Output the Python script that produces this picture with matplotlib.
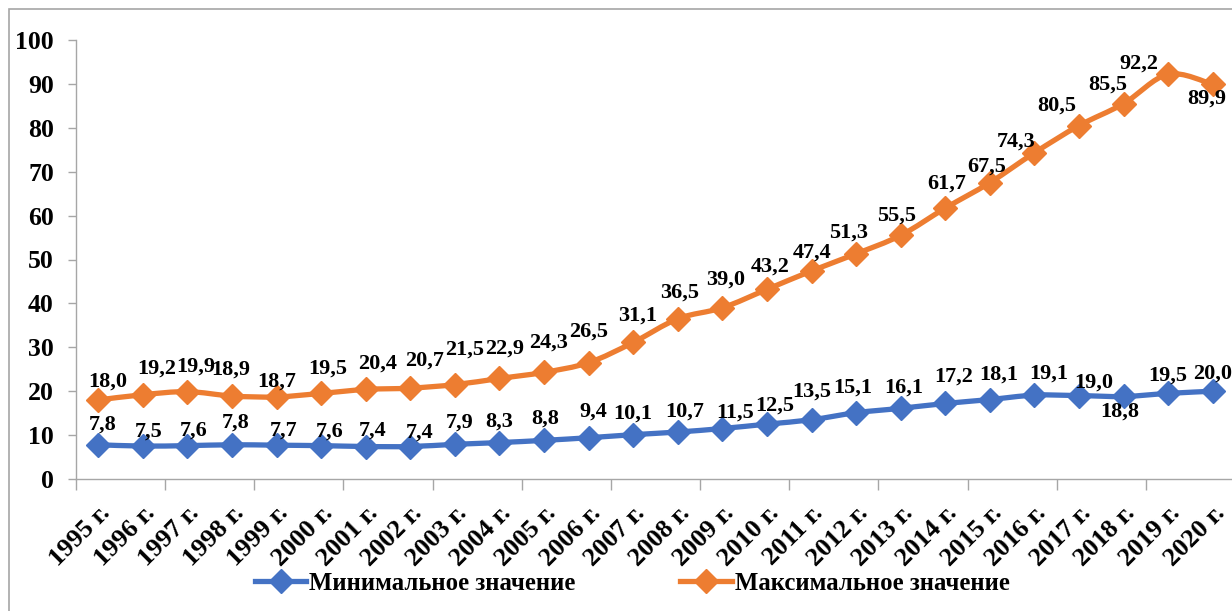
import matplotlib.pyplot as plt
from matplotlib.path import Path
from matplotlib.patches import PathPatch, Rectangle
from matplotlib.lines import Line2D

years = [f"{y} г." for y in range(1995, 2021)]

min_values = [7.8, 7.5, 7.6, 7.8, 7.7, 7.6, 7.4, 7.4, 7.9, 8.3, 8.8, 9.4, 10.1,
              10.7, 11.5, 12.5, 13.5, 15.1, 16.1, 17.2, 18.1, 19.1, 19.0, 18.8,
              19.5, 20.0]
max_values = [18.0, 19.2, 19.9, 18.9, 18.7, 19.5, 20.4, 20.7, 21.5, 22.9, 24.3,
              26.5, 31.1, 36.5, 39.0, 43.2, 47.4, 51.3, 55.5, 61.7, 67.5, 74.3,
              80.5, 85.5, 92.2, 89.9]

# label offsets in pixels (dx, dy), picked by eye from the original
min_offsets = [(4, 20), (6, 14), (6, 15), (4, 22), (7, 15), (8, 14), (7, 16),
               (9, 14), (5, 22), (0, 21), (1, 22), (5, 26), (0, 21), (7, 20),
               (13, 16), (8, 19), (0, 28), (-3, 25), (3, 21), (8, 27), (9, 25),
               (14, 22), (15, 13), (-4, -15), (0, 18), (0, 18)]
max_offsets = [(9, 18), (14, 26), (8, 25), (-1, 26), (0, 15), (7, 25), (12, 26),
               (14, 28), (10, 35), (5, 30), (5, 30), (0, 31), (4, 27), (2, 26),
               (3, 28), (3, 23), (1, 18), (-8, 21), (-4, 20), (1, 25), (-3, 16),
               (-18, 11), (-22, 20), (-16, 19), (-29, 11), (-6, -14)]

BLUE = "#4472C4"
ORANGE = "#ED7D31"
GREY = "#A6A6A6"

plt.rcParams["font.family"] = ["Liberation Serif", "DejaVu Serif"]
plt.rcParams["font.weight"] = "bold"

fig = plt.figure(figsize=(12.32, 6.11), dpi=100)
ax = fig.add_axes([76 / 1232, 132 / 611, 1159 / 1232, 439 / 611])

x = [i + 0.5 for i in range(len(years))]


def smooth_path(xs, ys):
    # Excel-like smoothed line: Catmull-Rom turned into cubic Bezier segments
    pts = list(zip(xs, ys))
    verts = [pts[0]]
    codes = [Path.MOVETO]
    n = len(pts)
    for i in range(n - 1):
        p0 = pts[max(i - 1, 0)]
        p1 = pts[i]
        p2 = pts[i + 1]
        p3 = pts[min(i + 2, n - 1)]
        c1 = (p1[0] + (p2[0] - p0[0]) / 6, p1[1] + (p2[1] - p0[1]) / 6)
        c2 = (p2[0] - (p3[0] - p1[0]) / 6, p2[1] - (p3[1] - p1[1]) / 6)
        verts += [c1, c2, p2]
        codes += [Path.CURVE4] * 3
    return Path(verts, codes)


for vals, col, offs in [(min_values, BLUE, min_offsets),
                        (max_values, ORANGE, max_offsets)]:
    ax.add_patch(PathPatch(smooth_path(x, vals), fill=False, edgecolor=col,
                           lw=3.8, capstyle="round", joinstyle="round", zorder=2))
    ax.plot(x, vals, ls="none", marker="D", ms=12.5, color=col, zorder=3)
    for xi, v, (dx, dy) in zip(x, vals, offs):
        ax.annotate(f"{v:.1f}".replace(".", ","), (xi, v),
                    xytext=(dx, dy), textcoords="offset pixels",
                    ha="center", va="center", fontsize=16, fontweight="bold",
                    color="black", zorder=4)

ax.set_xlim(0, len(years))
ax.set_ylim(0, 100)
ax.set_yticks(range(0, 101, 10))
ax.set_xticks(range(0, len(years) + 1, 2))
ax.set_xticklabels([])
ax.set_xticks(x, minor=True)
ax.set_xticklabels(years, minor=True, rotation=45, ha="right", va="top",
                   rotation_mode="anchor", fontsize=19, fontweight="bold")
ax.tick_params(axis="x", which="minor", length=0, pad=16)
ax.tick_params(axis="x", which="major", length=8, width=1, color=GREY)
ax.tick_params(axis="y", length=6, width=1, color=GREY, pad=10, labelsize=18.5)
for lab in ax.get_yticklabels():
    lab.set_fontweight("bold")

for s in ["top", "right"]:
    ax.spines[s].set_visible(False)
for s in ["left", "bottom"]:
    ax.spines[s].set_color(GREY)
    ax.spines[s].set_linewidth(1)

handles = [Line2D([], [], color=BLUE, lw=3.8, marker="D", ms=12.5),
           Line2D([], [], color=ORANGE, lw=3.8, marker="D", ms=12.5)]
fig.legend(handles, ["Минимальное значение", "Максимальное значение"],
           loc="center", bbox_to_anchor=(632 / 1232, 1 - 583 / 611), ncol=2,
           frameon=False, prop={"size": 17.8, "weight": "bold"},
           handlelength=2.1, handletextpad=0.12, columnspacing=4.2)

fig.patches.append(Rectangle((9 / 1232, -0.05), 1.1, 1 - 9 / 611 + 0.05,
                             transform=fig.transFigure, fill=False,
                             edgecolor=GREY, lw=1.2))

fig.savefig("out.png", dpi=100)
